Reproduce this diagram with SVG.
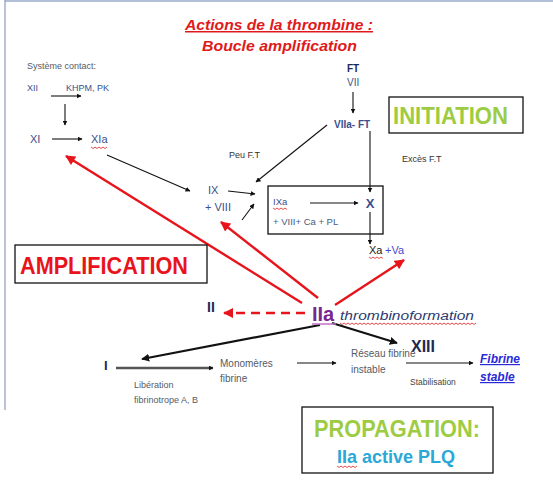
<svg xmlns="http://www.w3.org/2000/svg" width="553" height="487" viewBox="0 0 553 487">
<defs>
<style>
.t{font-family:"Liberation Sans",Arial,sans-serif}
.sm{font-size:9px;fill:#555a66}
.bl{font-size:11px;fill:#3b4f8c}
.nv{font-weight:bold;fill:#1f2a50}
.k{stroke:#111;stroke-width:1.1;fill:none}
.r{stroke:#e8141c;stroke-width:2.4;fill:none}
.wv{stroke:#e02020;stroke-width:0.8;fill:none}
.box{fill:none;stroke:#111;stroke-width:1.3}
</style>
<marker id="ak" viewBox="0 0 10 10" refX="9" refY="5" markerWidth="5" markerHeight="5" orient="auto" markerUnits="userSpaceOnUse"><path d="M0,0 L10,5 L0,10 z" fill="#111"/></marker>
<marker id="ak2" viewBox="0 0 10 10" refX="9" refY="5" markerWidth="8" markerHeight="8" orient="auto" markerUnits="userSpaceOnUse"><path d="M0,0 L10,5 L0,10 z" fill="#111"/></marker>
<marker id="ar" viewBox="0 0 10 10" refX="9" refY="5" markerWidth="11" markerHeight="10" orient="auto" markerUnits="userSpaceOnUse"><path d="M0,0 L10,5 L0,10 z" fill="#e8141c"/></marker>
</defs>
<rect width="553" height="487" fill="#fff"/>
<line x1="5" y1="1" x2="553" y2="1" stroke="#b4bfd8" stroke-width="2"/>
<line x1="5" y1="0" x2="5" y2="410" stroke="#8e9ab8" stroke-width="1.2"/>

<g id="title" class="t" font-weight="bold" font-style="italic" fill="#e01a1a">
<text x="185" y="30" font-size="15" textLength="188" lengthAdjust="spacingAndGlyphs" text-decoration="underline">Actions de la thrombine :</text>
<text x="202" y="51" font-size="15" textLength="155" lengthAdjust="spacingAndGlyphs">Boucle amplification</text>
</g>

<g id="connectors">
<line class="k" x1="51" y1="96" x2="81" y2="96" marker-end="url(#ak)"/>
<line class="k" x1="65" y1="104" x2="65" y2="125" marker-end="url(#ak)"/>
<line class="k" x1="52" y1="139" x2="82" y2="139" marker-end="url(#ak)"/>
<line class="k" x1="353" y1="92" x2="353" y2="113" marker-end="url(#ak)"/>
<line class="k" x1="370" y1="131" x2="370" y2="192" marker-end="url(#ak)"/>
<line class="k" x1="327" y1="125" x2="256" y2="182" marker-end="url(#ak)"/>
<line class="k" x1="107" y1="155" x2="190" y2="191" marker-end="url(#ak)"/>
<line class="k" x1="228" y1="191" x2="255" y2="194" marker-end="url(#ak)"/>
<line class="k" x1="242" y1="220" x2="254" y2="204" marker-end="url(#ak)"/>
<line class="k" x1="310" y1="203" x2="358" y2="203" marker-end="url(#ak)"/>
<line class="k" x1="370" y1="212" x2="370" y2="244" marker-end="url(#ak)"/>
<line class="r" x1="302" y1="303" x2="66" y2="156" marker-end="url(#ar)"/>
<line class="r" x1="318" y1="298" x2="221" y2="222" marker-end="url(#ar)"/>
<line class="r" x1="335" y1="305" x2="404" y2="260" marker-end="url(#ar)"/>
<line class="r" x1="305" y1="313" x2="224" y2="313" stroke-dasharray="9,6" stroke-width="2" marker-end="url(#ar)"/>
<line x1="320" y1="325" x2="142" y2="359" stroke="#111" stroke-width="2.2" marker-end="url(#ak2)"/>
<line x1="332" y1="323" x2="397" y2="343" stroke="#111" stroke-width="2.2" marker-end="url(#ak2)"/>
<line x1="116" y1="368" x2="213" y2="368" stroke="#555" stroke-width="2.6" marker-end="url(#ak)"/>
<line class="k" x1="297" y1="363" x2="336" y2="363" marker-end="url(#ak)"/>
<line class="k" x1="406" y1="363" x2="473" y2="363" marker-end="url(#ak)"/>
</g>

<g id="contact" class="t">
<text x="27" y="69" class="sm">Système contact:</text>
<text x="27" y="91" font-size="9" fill="#3b4f8c">XII</text>
<text x="66" y="91" font-size="9" fill="#3b4f8c">KHPM, PK</text>
</g>
<g id="XI" class="t"><text x="30" y="143" class="bl">XI</text></g>
<g id="XIa" class="t"><text x="91" y="143" class="bl">XIa</text><path class="wv" d="M91,147 l2,1.5 2,-1.5 2,1.5 2,-1.5 2,1.5 2,-1.5 2,1.5 2,-1.5"/></g>

<g id="FT" class="t">
<text x="347" y="72" font-size="10" class="nv">FT</text>
<text x="347" y="86" font-size="10" fill="#3b4f8c">VII</text>
</g>
<g id="VIIa" class="t"><text x="334" y="128" font-size="10" font-weight="bold" fill="#3b4f8c">VIIa- FT</text></g>
<g id="peuFT" class="t"><text x="229" y="158" font-size="9" fill="#333">Peu F.T</text></g>
<g id="excesFT" class="t"><text x="402" y="162" font-size="9" fill="#333">Excès F.T</text></g>

<g id="initiation">
<rect class="box" x="389" y="97" width="134" height="36"/>
<text x="393" y="124" class="t" font-size="24" font-weight="bold" fill="#9dcc44" textLength="115" lengthAdjust="spacingAndGlyphs">INITIATION</text>
</g>

<g id="IX" class="t">
<text x="208" y="194" class="bl">IX</text>
<text x="205" y="211" class="bl">+ VIII</text>
</g>

<g id="IXa-box" class="t">
<rect class="box" x="268" y="186" width="115" height="48" stroke-width="1.1"/>
<text x="273" y="205" font-size="9.5" fill="#3b4f8c">IXa</text>
<path class="wv" d="M273,208 l2,1.5 2,-1.5 2,1.5 2,-1.5 2,1.5 2,-1.5 2,1.5"/>
<text x="273" y="225" font-size="9.5" fill="#4a5a80">+ VIII+ Ca + PL</text>
<text x="370" y="208" font-size="13" font-weight="bold" fill="#3b4f8c" text-anchor="middle">X</text>
</g>

<g id="Xa" class="t">
<text x="369" y="254" font-size="11" fill="#222">Xa</text>
<path class="wv" d="M369,257 l2,1.5 2,-1.5 2,1.5 2,-1.5 2,1.5 2,-1.5 2,1.5"/>
<text x="385" y="254" font-size="11" fill="#4b4bd0">+Va</text>
</g>

<g id="amplification">
<rect class="box" x="15" y="245" width="192" height="38"/>
<text x="20" y="274" class="t" font-size="24" font-weight="bold" fill="#e8141c" textLength="168" lengthAdjust="spacingAndGlyphs">AMPLIFICATION</text>
</g>

<g id="II" class="t"><text x="207" y="312" font-size="14" class="nv">II</text></g>

<g id="IIa" class="t">
<text x="312" y="321" font-size="20" font-weight="bold" fill="#7a2590">IIa</text>
<line x1="312" y1="324" x2="336" y2="324" stroke="#c070c8" stroke-width="1.5"/>
<text x="340" y="320" font-size="12" font-style="italic" fill="#2a3a70" textLength="134" lengthAdjust="spacingAndGlyphs">thrombinoformation</text>
<path class="wv" d="M340,323 l2,1.5 2,-1.5 2,1.5 2,-1.5 2,1.5 2,-1.5 2,1.5 2,-1.5 2,1.5 2,-1.5 2,1.5 2,-1.5 2,1.5 2,-1.5 2,1.5 2,-1.5 2,1.5 2,-1.5 2,1.5 2,-1.5 2,1.5 2,-1.5 2,1.5 2,-1.5 2,1.5 2,-1.5 2,1.5 2,-1.5 2,1.5 2,-1.5 2,1.5 2,-1.5 2,1.5 2,-1.5 2,1.5 2,-1.5 2,1.5 2,-1.5 2,1.5 2,-1.5 2,1.5 2,-1.5 2,1.5 2,-1.5 2,1.5 2,-1.5 2,1.5 2,-1.5 2,1.5 2,-1.5 2,1.5 2,-1.5 2,1.5 2,-1.5 2,1.5 2,-1.5 2,1.5 2,-1.5 2,1.5 2,-1.5 2,1.5 2,-1.5 2,1.5 2,-1.5 2,1.5 2,-1.5 2,1.5 2,-1.5"/>
</g>

<g id="XIII" class="t"><text x="411" y="352" font-size="16" class="nv">XIII</text></g>

<g id="I" class="t"><text x="104" y="370" font-size="13" class="nv">I</text></g>
<g id="liberation" class="t">
<text x="134" y="388" class="sm">Libération</text>
<text x="134" y="403" class="sm">fibrinotrope A, B</text>
</g>
<g id="monomeres" class="t">
<text x="220" y="367" font-size="10" fill="#555a66">Monomères</text>
<text x="220" y="382" font-size="10" fill="#555a66">fibrine</text>
</g>
<g id="reseau" class="t">
<text x="351" y="357" font-size="10" fill="#555a66">Réseau fibrine</text>
<text x="351" y="373" font-size="10" fill="#555a66">instable</text>
</g>
<g id="stabilisation" class="t"><text x="410" y="385" font-size="8.5" fill="#444">Stabilisation</text></g>
<g id="fibrine-stable" class="t" font-size="12" font-weight="bold" font-style="italic" fill="#2a2ad8" text-decoration="underline">
<text x="480" y="363">Fibrine</text>
<text x="480" y="381">stable</text>
</g>

<g id="propagation">
<rect class="box" x="302" y="407" width="191" height="66"/>
<text x="314" y="437" class="t" font-size="24" font-weight="bold" fill="#9dcc44" textLength="166" lengthAdjust="spacingAndGlyphs">PROPAGATION:</text>
<text x="337" y="463" class="t" font-size="19" font-weight="bold" fill="#2aa8d8" textLength="118" lengthAdjust="spacingAndGlyphs">IIa active PLQ</text>
<path class="wv" d="M337,466 l2,1.5 2,-1.5 2,1.5 2,-1.5 2,1.5 2,-1.5 2,1.5 2,-1.5 2,1.5 2,-1.5"/>
</g>
</svg>
